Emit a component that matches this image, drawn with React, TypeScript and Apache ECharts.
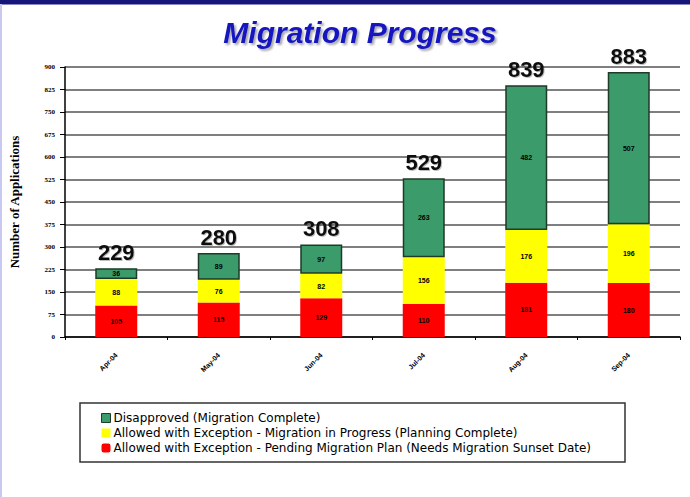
import React, { useEffect, useRef } from "react";
import * as echarts from "echarts";

const months = ["Apr-04", "May-04", "Jun-04", "Jul-04", "Aug-04", "Sep-04"];
const pendingPlan = [105, 115, 129, 110, 181, 180];
const inProgress = [88, 76, 82, 156, 176, 196];
const disapproved = [36, 89, 97, 263, 482, 507];
const totals = [229, 280, 308, 529, 839, 883];
const yTicks = [0, 75, 150, 225, 300, 375, 450, 525, 600, 675, 750, 825, 900];

const NAME_GREEN = "Disapproved (Migration Complete)";
const NAME_YELLOW = "Allowed with Exception - Migration in Progress (Planning Complete)";
const NAME_RED = "Allowed with Exception - Pending Migration Plan (Needs Migration Sunset Date)";

export default function App() {
  const ref = useRef<HTMLDivElement>(null);
  useEffect(() => {
    if (!ref.current) return;
    const chart = echarts.init(ref.current, null, { renderer: "svg" });
    const innerLabel = {
      show: true,
      position: "inside",
      fontSize: 7,
      fontWeight: "bold",
      color: "#000",
      fontFamily: "Liberation Sans",
    };
    chart.setOption({
      animation: false,
      backgroundColor: "#ffffff",
      title: {
        text: "Migration Progress",
        left: 355,
        textAlign: "center",
        top: 12,
        textStyle: {
          fontSize: 30,
          fontWeight: "bold",
          fontStyle: "italic",
          fontFamily: "Liberation Sans",
          color: "#1414c0",
          textShadowColor: "rgba(0,0,0,0.35)",
          textShadowBlur: 2,
          textShadowOffsetX: 2,
          textShadowOffsetY: 2,
        },
      },
      graphic: [
        { type: "rect", shape: { x: 0, y: 0, width: 690, height: 4 }, style: { fill: "#16167a" } },
        { type: "rect", shape: { x: 0, y: 4, width: 690, height: 1 }, style: { fill: "#8888c8" } },
        { type: "rect", shape: { x: 0, y: 4, width: 2, height: 493 }, style: { fill: "#c8c8f0" } },
        {
          type: "rect",
          shape: { x: 80, y: 403, width: 545, height: 59 },
          style: { fill: "none", stroke: "#333", lineWidth: 1.5 },
        },
      ],
      legend: {
        orient: "vertical",
        left: 96,
        top: 407,
        itemGap: 3,
        itemWidth: 9,
        itemHeight: 9,
        selectedMode: false,
        textStyle: { fontSize: 12, fontFamily: "DejaVu Sans", color: "#000", padding: [0, 0, 0, -2] },
        data: [
          { name: NAME_GREEN, icon: "rect", itemStyle: { color: "#3c9b6b", borderColor: "#1e3a28", borderWidth: 1 } },
          { name: NAME_YELLOW, icon: "rect", itemStyle: { color: "#ffff00", borderWidth: 0 } },
          { name: NAME_RED, icon: "roundRect", itemStyle: { color: "#ff0000", borderWidth: 0 } },
        ],
      },
      grid: { left: 62, right: 10, top: 67, bottom: 160 },
      xAxis: {
        type: "category",
        data: months,
        axisLine: { show: true, lineStyle: { color: "#000", width: 1.5 } },
        axisTick: { show: true, length: 3, lineStyle: { color: "#000" } },
        axisLabel: {
          rotate: 45,
          fontSize: 7,
          fontWeight: "bold",
          fontFamily: "Liberation Sans",
          color: "#000",
          margin: 17,
        },
      },
      yAxis: {
        type: "value",
        min: 0,
        max: 900,
        interval: 75,
        name: "Number of Applications",
        nameLocation: "middle",
        nameRotate: 90,
        nameGap: 44,
        nameTextStyle: { fontSize: 13, fontWeight: "bold", fontFamily: "Liberation Serif", color: "#000" },
        axisLine: { show: true, lineStyle: { color: "#000", width: 1.5 } },
        axisTick: { show: true, length: 5, lineStyle: { color: "#000" } },
        axisLabel: {
          fontSize: 7,
          fontWeight: "bold",
          fontFamily: "Liberation Serif",
          color: "#000",
          margin: 10,
          customValues: yTicks,
        },
        splitLine: { show: true, lineStyle: { color: "#555", width: 1.5 } },
      },
      series: [
        {
          name: NAME_RED,
          type: "bar",
          stack: "total",
          barWidth: 42,
          data: pendingPlan,
          itemStyle: { color: "#ff0000" },
          label: innerLabel,
        },
        {
          name: NAME_YELLOW,
          type: "bar",
          stack: "total",
          barWidth: 42,
          data: inProgress,
          itemStyle: { color: "#ffff00" },
          label: innerLabel,
        },
        {
          name: NAME_GREEN,
          type: "bar",
          stack: "total",
          barWidth: 42,
          data: disapproved,
          itemStyle: { color: "#3c9b6b", borderColor: "#1e3a28", borderWidth: 1.5 },
          label: innerLabel,
        },
        {
          name: "Total",
          type: "scatter",
          data: totals,
          symbolSize: 0,
          silent: true,
          itemStyle: { opacity: 1 },
          label: {
            show: true,
            position: "top",
            distance: 5,
            fontSize: 22,
            fontWeight: "bold",
            fontFamily: "Liberation Sans",
            color: "#111",
            textShadowColor: "rgba(0,0,0,0.25)",
            textShadowBlur: 1,
            textShadowOffsetX: 1,
            textShadowOffsetY: 1,
          },
        },
      ],
    });
    return () => chart.dispose();
  }, []);
  return (
    <div
      ref={ref}
      style={{ position: "fixed", left: 0, top: 0, width: 690, height: 497 }}
    />
  );
}
